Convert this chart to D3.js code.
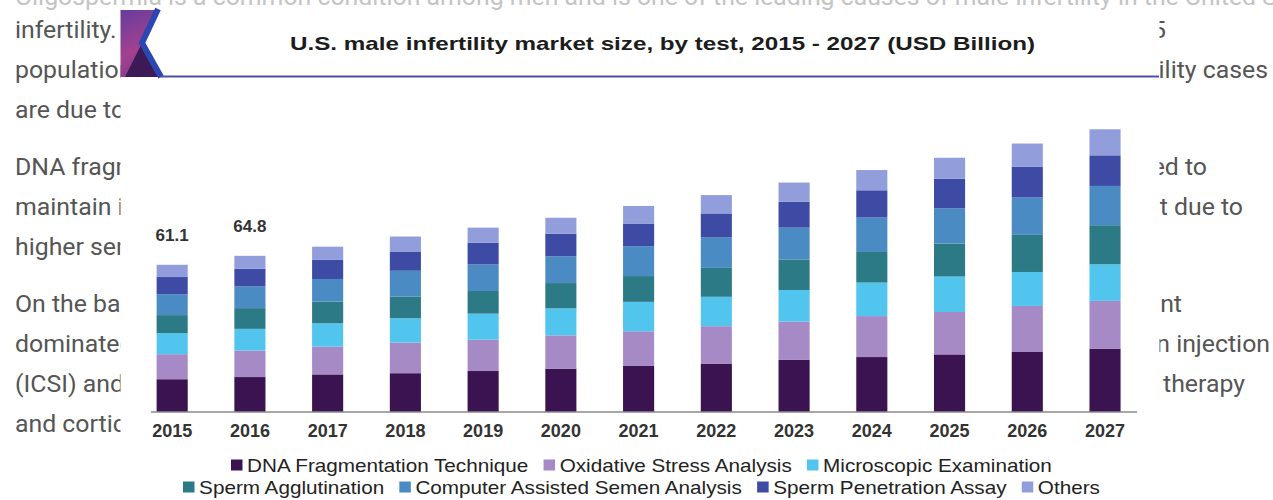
<!DOCTYPE html>
<html>
<head>
<meta charset="utf-8">
<script src="https://cdn.jsdelivr.net/npm/d3@7"></script>
<style>
  html, body { margin: 0; padding: 0; background: #ffffff; }
  svg { display: block; }
</style>
</head>
<body>
<svg id="chart" width="1273" height="500"></svg>
<script>
// ---------------- DATA ----------------
const years = ["2015","2016","2017","2018","2019","2020","2021","2022","2023","2024","2025","2026","2027"];
const seriesNames = ["DNA Fragmentation Technique","Oxidative Stress Analysis","Microscopic Examination",
  "Sperm Agglutination","Computer Assisted Semen Analysis","Sperm Penetration Assay","Others"];
const dnaFragmentation   = [13.6,14.5,15.6,16.1,17.0,18.0,19.1,20.1,21.6,22.8,23.9,24.9,26.3];
const oxidativeStress    = [10.4,11.0,11.5,12.7,13.0,13.8,14.4,15.5,15.9,17.0,17.6,19.1,19.8];
const microscopicExam    = [8.7,9.0,9.7,10.1,10.8,11.2,12.2,12.2,13.1,13.9,14.7,14.1,15.2];
const spermAgglutination = [7.5,8.6,9.0,9.0,9.4,10.5,10.7,12.0,12.7,12.7,13.7,15.4,16.2];
const casaAnalysis       = [8.7,9.0,9.4,10.7,11.0,11.1,12.4,12.6,13.2,14.3,14.6,15.5,16.3];
const spermPenetration   = [7.1,7.3,7.9,8.0,9.1,9.4,9.4,10.0,10.8,11.3,12.3,12.7,12.7];
const others             = [5.1,5.4,5.5,6.2,6.2,6.6,7.3,7.6,7.9,8.4,8.7,9.7,10.8];
const valueLabelYears = ["2015","2016"];
const valueLabelTexts = ["61.1","64.8"];
const legendRow1 = [0,1,2];
const legendRow2 = [3,4,5,6];
const titleText = "U.S. male infertility market size, by test, 2015 - 2027 (USD Billion)";

// background page text (only the fragments visible around the chart image)
const leftLineTexts = ["infertility.","population","are due to","DNA fragm","maintain its","higher sens",
  "On the bas","dominated","(ICSI) and","and cortico"];
const leftLineRows = [0,1,2,3,4,5,6,7,8,9];
const rightLineTexts = ["15","ility cases","ted to","t due to","nt","on injection","e therapy"];
const rightLineRows = [0,1,3,4,6,7,8];
const rightLineEnds = [1166,1268,1207,1243,1182,1270,1245];
const topLineText = "Oligospermia is a common condition among men and is one of the leading causes of male infertility in the United States";

// ---------------- STYLE ----------------
const colors = ["#3a1350","#a68ac6","#52c5ef","#2c7a86","#4a8bc3","#3d4ba4","#919edb"];
const series = [dnaFragmentation,oxidativeStress,microscopicExam,spermAgglutination,casaAnalysis,spermPenetration,others];

const svg = d3.select("#chart");

// background page text
const rowY = r => r <= 2 ? 38 + r*40 : (r <= 5 ? 175 + (r-3)*40 : 312 + (r-6)*40);
const bg = svg.append("g").attr("font-family","Roboto, 'Liberation Sans', sans-serif")
  .attr("font-size",23).attr("fill","#555");
bg.append("text").attr("transform","translate(15,5) scale(1.08,1)").attr("fill","#c4c4c4").text(topLineText);
leftLineTexts.forEach((t,i) => {
  bg.append("text").attr("transform",`translate(15,${rowY(leftLineRows[i])}) scale(1.08,1)`).text(t);
});
rightLineTexts.forEach((t,i) => {
  bg.append("text").attr("text-anchor","end")
    .attr("transform",`translate(${rightLineEnds[i]},${rowY(rightLineRows[i])}) scale(1.08,1)`).text(t);
});

// chart image panel
svg.append("rect").attr("x",120.5).attr("y",10).attr("width",1039).attr("height",490).attr("fill","#fff");

// logo
const defs = svg.append("defs");
const grad = defs.append("linearGradient").attr("id","lg").attr("x1",0).attr("y1",0).attr("x2",0.3).attr("y2",1);
grad.append("stop").attr("offset","0%").attr("stop-color","#653d9d");
grad.append("stop").attr("offset","65%").attr("stop-color","#a2418f");
grad.append("stop").attr("offset","100%").attr("stop-color","#8a3a8a");
svg.append("path").attr("d","M120.5,10 L157,10 L142,43 L161,77 L120.5,77 Z").attr("fill","url(#lg)");
svg.append("path").attr("d","M125,77 L141,45 L158,77 Z").attr("fill","#3b1a55");
svg.append("path").attr("d","M158,9 L142,43 L161,77").attr("fill","none").attr("stroke","#2c46b4").attr("stroke-width",6);
svg.append("line").attr("x1",160).attr("x2",1159).attr("y1",76.5).attr("y2",76.5)
  .attr("stroke","#4c4db0").attr("stroke-width",2.2);

// title
svg.append("text").attr("x",290).attr("y",50)
  .attr("font-family","'Liberation Sans', Arial, sans-serif").attr("font-weight","bold")
  .attr("font-size",19).attr("fill","#1c1c1c").text(titleText)
  .attr("textLength",745).attr("lengthAdjust","spacingAndGlyphs");

// scales
const x = d3.scaleBand().domain(years).range([133.3,1143.9]).paddingInner(0.6).paddingOuter(0.3);
const y = d3.scaleLinear().domain([0,120]).range([412,412-2.41*120]);

const table = years.map((yr,i) => {
  const o = {year: yr};
  seriesNames.forEach((n,k) => o[n] = series[k][i]);
  return o;
});
const stacked = d3.stack().keys(seriesNames)(table);

svg.append("g").selectAll("g").data(stacked).join("g")
  .attr("fill",(d,i) => colors[i])
  .selectAll("rect").data(d => d).join("rect")
  .attr("x",d => x(d.data.year))
  .attr("width",x.bandwidth())
  .attr("y",d => y(d[1]))
  .attr("height",d => y(d[0]) - y(d[1]));

// x axis
const xAxis = svg.append("g").attr("transform","translate(0,412)")
  .call(d3.axisBottom(x).tickSize(0).tickPadding(25));
xAxis.select(".domain").attr("d","M151,0H1137").attr("stroke","#8a8a8a").attr("stroke-width",1.6);
xAxis.selectAll("text").attr("font-family","'Liberation Sans', Arial, sans-serif")
  .attr("font-weight","bold").attr("font-size",18).attr("fill","#333").attr("dy",0).attr("y",25);

// value labels
const totals = years.map((yr,i) => d3.sum(series, s => s[i]));
svg.append("g").selectAll("text").data(valueLabelYears).join("text")
  .attr("x",d => x(d) + x.bandwidth()/2)
  .attr("y",d => y(totals[years.indexOf(d)]) - 24)
  .attr("text-anchor","middle")
  .attr("font-family","'Liberation Sans', Arial, sans-serif").attr("font-weight","bold")
  .attr("font-size",17).attr("fill","#333")
  .text((d,i) => valueLabelTexts[i]);

// legend
function legendRow(idx, baseline, left, right) {
  const inner = svg.append("g");
  let cx = 0;
  idx.forEach(k => {
    inner.append("rect").attr("x",cx).attr("y",-12).attr("width",10).attr("height",11).attr("fill",colors[k]);
    cx += 14;
    const t = inner.append("text").attr("x",cx).attr("y",0)
      .attr("font-family","'Liberation Sans', Arial, sans-serif").attr("font-size",18).attr("fill","#222")
      .text(seriesNames[k]);
    cx += t.node().getComputedTextLength() + 13;
  });
  const w = cx - 13;
  const sx = (right - left) / w;
  inner.attr("transform",`translate(${left},${baseline}) scale(${sx},1)`);
}
legendRow(legendRow1, 471.5, 231, 1052);
legendRow(legendRow2, 493.5, 183, 1100);
</script>
</body>
</html>
